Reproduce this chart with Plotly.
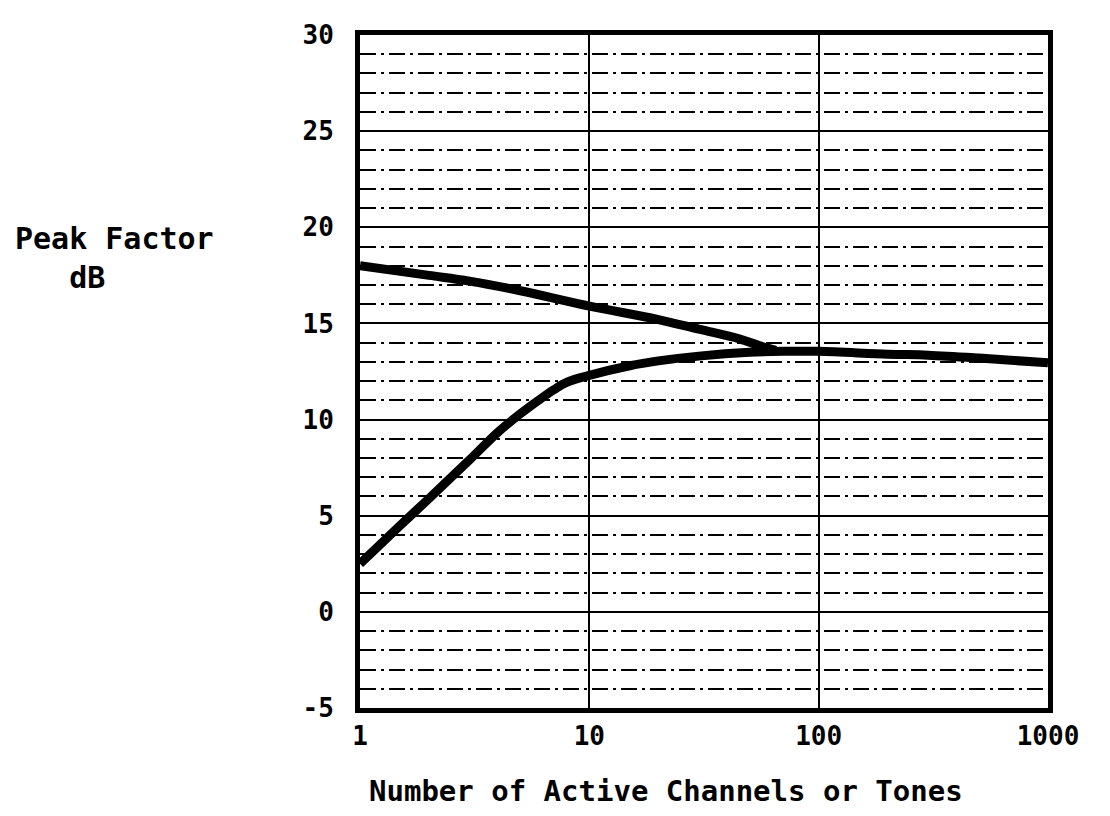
import plotly.graph_objects as go

# Data
upper_n = [1, 2, 3, 5, 10, 20, 30, 45, 55, 65]
upper_db = [18.0, 17.5, 17.2, 16.7, 15.9, 15.2, 14.7, 14.2, 13.85, 13.6]

lower_n = [1, 1.5, 2, 3, 4, 5, 6, 7, 8, 10, 15, 20, 30, 50, 70, 100, 200, 300, 500, 1000]
lower_db = [2.5, 4.5, 5.9, 7.9, 9.35, 10.3, 11.0, 11.55, 11.95, 12.3, 12.8, 13.05, 13.3,
            13.5, 13.55, 13.55, 13.4, 13.35, 13.2, 12.95]

x_tickvals = [1, 10, 100, 1000]
x_ticktext = ["1", "10", "100", "1000"]
y_tickvals = [-5, 0, 5, 10, 15, 20, 25, 30]
y_ticktext = ["-5", "0", "5", "10", "15", "20", "25", "30"]

FONT = "DejaVu Sans Mono"

fig = go.Figure()
fig.add_trace(go.Scatter(x=lower_n, y=lower_db, mode="lines",
                         line=dict(color="black", width=9, shape="spline", smoothing=1.0),
                         showlegend=False, hoverinfo="skip"))
fig.add_trace(go.Scatter(x=upper_n, y=upper_db, mode="lines",
                         line=dict(color="black", width=9, shape="spline", smoothing=1.0),
                         showlegend=False, hoverinfo="skip"))

fig.update_layout(
    width=1110, height=816,
    margin=dict(l=352, r=70, t=14, b=116),
    paper_bgcolor="white", plot_bgcolor="white",
    font=dict(family=FONT, color="black"),
    showlegend=False,
)

fig.update_xaxes(
    type="log", range=[0, 3],
    tickvals=x_tickvals, ticktext=x_ticktext,
    tickfont=dict(family=FONT, size=26, weight="bold"),
    showgrid=True, gridcolor="black", gridwidth=2,
    showline=True, linecolor="black", linewidth=5, mirror=True,
    ticks="", ticklabelstandoff=1,
    zeroline=False,
)

fig.update_yaxes(
    range=[-5, 30],
    tickvals=y_tickvals, ticktext=y_ticktext,
    tickfont=dict(family=FONT, size=26, weight="bold"),
    showgrid=True, gridcolor="black", gridwidth=2,
    minor=dict(dtick=1, tick0=0, showgrid=True, gridcolor="black", gridwidth=1.5,
               griddash="16px,5px,3px,5px", ticks=""),
    showline=True, linecolor="black", linewidth=5, mirror=True,
    ticks="", ticklabelstandoff=16,
    zeroline=False,
)

# y-axis title (horizontal, left of the plot)
fig.add_annotation(text="Peak Factor<br>   dB", xref="paper", yref="paper",
                   x=-0.505, y=0.668, xanchor="left", yanchor="middle",
                   align="left", showarrow=False,
                   font=dict(family=FONT, size=30, weight="bold", color="black"))

# x-axis title
fig.add_annotation(text="Number of Active Channels or Tones", xref="paper", yref="paper",
                   x=0.01, y=-0.124, xanchor="left", yanchor="middle",
                   showarrow=False,
                   font=dict(family=FONT, size=29, weight="bold", color="black"))

fig.write_html("out.html")
